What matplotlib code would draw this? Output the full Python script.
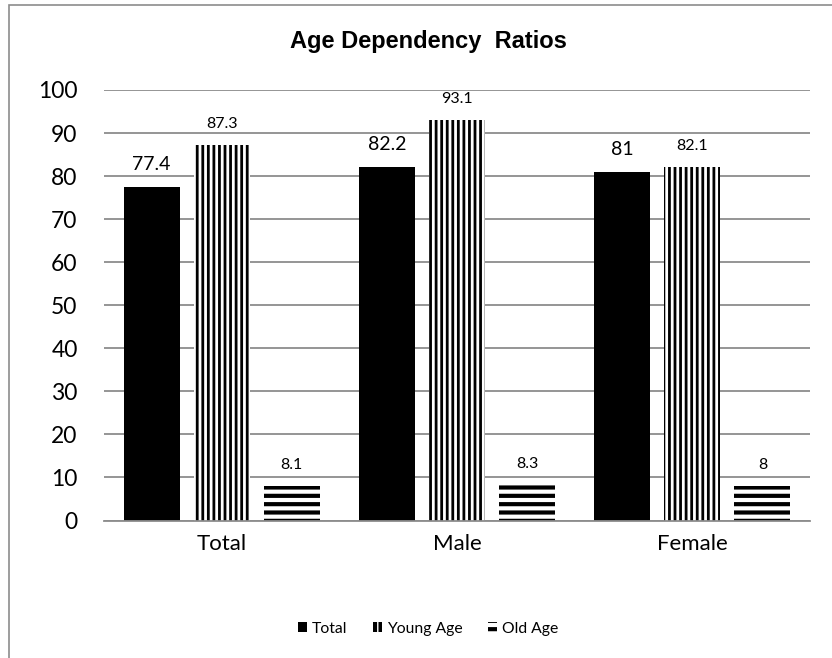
import matplotlib
matplotlib.use("Agg")
import numpy as np
import matplotlib.pyplot as plt
from matplotlib.patches import Rectangle

# data
categories = ["Total", "Male", "Female"]
total_vals = [77.4, 82.2, 81]
young_vals = [87.3, 93.1, 82.1]
old_vals = [8.1, 8.3, 8]
series_names = ["Total", "Young Age", "Old Age"]

plt.rcParams['font.family'] = ['Lato', 'DejaVu Sans']

fig = plt.figure(figsize=(8.32, 6.58), dpi=100)
ax = fig.add_axes([104 / 832, 1 - 520.5 / 658, 706 / 832, 430.5 / 658])

# outer chart border (right/bottom edges fall outside the image)
fig.patches.append(Rectangle((9 / 832, -0.1), 1.2, 1 - 5 / 658 + 0.1,
                             transform=fig.transFigure, fill=False,
                             edgecolor='#8c8c8c', linewidth=1.2))

x = np.arange(len(categories))
width = 0.238
step = 0.298

plt.rcParams['hatch.linewidth'] = 0.0
b1 = ax.bar(x - step, total_vals, width, color='black', linewidth=0, zorder=3)

plt.rcParams['hatch.linewidth'] = 2.0
b2 = ax.bar(x, young_vals, width, color='white', edgecolor='black',
            hatch='|||', linewidth=0, zorder=3)

plt.rcParams['hatch.linewidth'] = 3.0
b3 = ax.bar(x + step, old_vals, width, color='white', edgecolor='black',
            hatch='--', linewidth=0, zorder=3)

for bars, vals, fs in [(b1, total_vals, 14), (b2, young_vals, 11.5), (b3, old_vals, 11.5)]:
    for rect, v in zip(bars, vals):
        ax.annotate(f"{v:g}", (rect.get_x() + rect.get_width() / 2, v),
                    xytext=(0, 10), textcoords='offset points',
                    ha='center', va='bottom', fontsize=fs)

ax.set_ylim(0, 100)
ax.set_xlim(-0.5, 2.5)
ax.set_yticks(np.arange(0, 101, 10))
ax.set_xticks(x)
ax.set_xticklabels(categories)
ax.tick_params(axis='y', length=0, pad=19, labelsize=16.5)
ax.tick_params(axis='x', length=0, pad=10, labelsize=16)
ax.grid(axis='y', color='#8c8c8c', linewidth=1.3, zorder=0)
for s in ['top', 'right', 'left']:
    ax.spines[s].set_visible(False)
ax.spines['bottom'].set_color('#8c8c8c')
ax.spines['bottom'].set_linewidth(1.3)
ax.spines['bottom'].set_zorder(4)

fig.text(428 / 832, 1 - 48 / 658, "Age Dependency  Ratios", ha='center', va='baseline',
         fontsize=17, fontweight='bold', family=['Liberation Sans', 'DejaVu Sans'])

ax.legend([b1, b2, b3], series_names, loc='center', bbox_to_anchor=(428 / 832, 1 - 629 / 658),
          bbox_transform=fig.transFigure, ncol=3, frameon=False, fontsize=11.3,
          handlelength=0.6, handleheight=0.6, handletextpad=0.3, columnspacing=1.6)

fig.savefig("out.png", dpi=100)
